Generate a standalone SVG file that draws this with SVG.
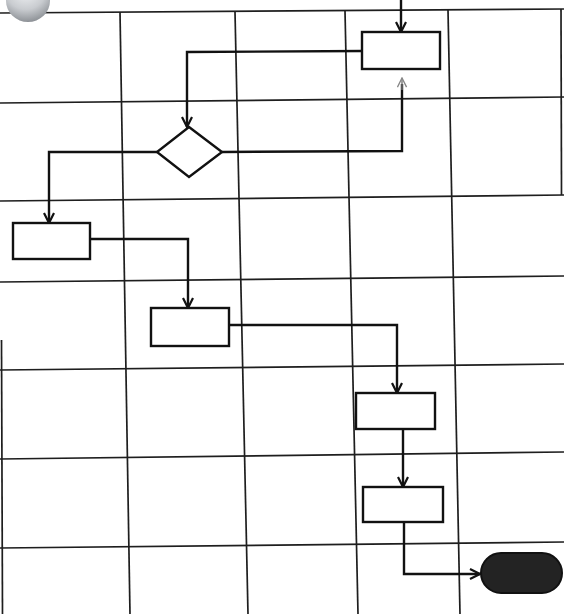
<svg xmlns="http://www.w3.org/2000/svg" width="564" height="614" viewBox="0 0 564 614">
<style>
.grid{stroke:#1e1e1e;stroke-width:1.7;fill:none}
.box{fill:#fff;stroke:#111;stroke-width:2.4}
.conn{fill:none;stroke:#111;stroke-width:2.4}
.faint{fill:none;stroke:#777;stroke-width:1.4}
</style>
<defs>
<marker id="arr" viewBox="0 0 12 12" refX="11" refY="6" markerWidth="12" markerHeight="12" markerUnits="userSpaceOnUse" orient="auto">
<path d="M1,1 L11,6 L1,11" fill="none" stroke="#111" stroke-width="2.2"/>
</marker>
<marker id="arrf" viewBox="0 0 12 12" refX="11" refY="6" markerWidth="11" markerHeight="11" markerUnits="userSpaceOnUse" orient="auto">
<path d="M1,1 L11,6 L1,11" fill="none" stroke="#888" stroke-width="1.5"/>
</marker>
<radialGradient id="blob" cx="0.45" cy="0.25" r="0.75">
<stop offset="0" stop-color="#f2f4f6"/>
<stop offset="0.6" stop-color="#c9ccd0"/>
<stop offset="1" stop-color="#8e9297"/>
</radialGradient>
</defs>
<rect x="0" y="0" width="564" height="614" fill="#fff"/>
<g id="grid">
<line class="grid" x1="0" y1="13" x2="564" y2="9"/>
<line class="grid" x1="0" y1="103" x2="564" y2="97"/>
<line class="grid" x1="0" y1="201" x2="564" y2="195"/>
<line class="grid" x1="0" y1="282" x2="564" y2="276"/>
<line class="grid" x1="0" y1="370" x2="564" y2="364"/>
<line class="grid" x1="0" y1="459" x2="564" y2="452"/>
<line class="grid" x1="0" y1="548" x2="564" y2="542"/>
<line class="grid" x1="120" y1="12" x2="130" y2="614"/>
<line class="grid" x1="235" y1="12" x2="248" y2="614"/>
<line class="grid" x1="345" y1="11" x2="358" y2="614"/>
<line class="grid" x1="448" y1="10" x2="460" y2="614"/>
<line class="grid" x1="1.5" y1="340" x2="2.5" y2="614" stroke-width="1.3"/>
<line class="grid" x1="561" y1="9" x2="561.5" y2="195" stroke-width="1.3"/>
</g>
<ellipse id="blob-mark" cx="28" cy="1" rx="22" ry="21" fill="url(#blob)"/>
<g id="connectors">
<path class="conn" d="M401,0 L401,32" marker-end="url(#arr)"/>
<path class="conn" d="M362,51 L187,52 L187,127" marker-end="url(#arr)"/>
<path class="conn" d="M222,152 L402,151 L402,84"/>
<path class="faint" d="M402,90 L402,78" marker-end="url(#arrf)"/>
<path class="conn" d="M157,152 L49,152 L49,223" marker-end="url(#arr)"/>
<path class="conn" d="M90,239 L188,239 L188,308" marker-end="url(#arr)"/>
<path class="conn" d="M229,325 L397,325 L397,393" marker-end="url(#arr)"/>
<path class="conn" d="M403,429 L403,487" marker-end="url(#arr)"/>
<path class="conn" d="M404,522 L404,574 L480,574" marker-end="url(#arr)"/>
</g>
<g id="box1"><rect class="box" x="362" y="32" width="78" height="37"/></g>
<g id="decision"><polygon class="box" points="189,127 222,152 189,177 157,152"/></g>
<g id="box2"><rect class="box" x="13" y="223" width="77" height="36"/></g>
<g id="box3"><rect class="box" x="151" y="308" width="78" height="38"/></g>
<g id="box4"><rect class="box" x="356" y="393" width="79" height="36"/></g>
<g id="box5"><rect class="box" x="363" y="487" width="80" height="35"/></g>
<g id="end"><rect x="481" y="553" width="81" height="40" rx="20" ry="20" fill="#232323" stroke="#111" stroke-width="2"/></g>
</svg>
